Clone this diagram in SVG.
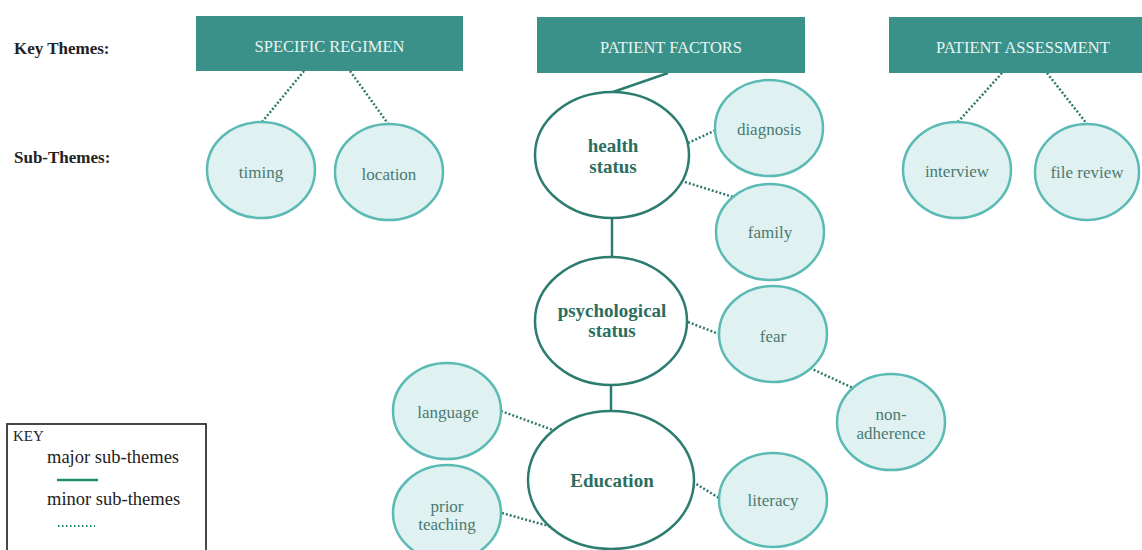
<svg xmlns="http://www.w3.org/2000/svg" width="1142" height="550" viewBox="0 0 1142 550">
<style>
.key{fill:#3a9189}
.kt{font-family:"Liberation Serif",serif;font-size:16.5px;fill:#e8f4f2;text-anchor:middle}
.lbl{font-family:"Liberation Serif",serif;font-size:17px;font-weight:bold;fill:#222}
.sub{fill:#dff1f0;stroke:#5bbab4;stroke-width:2.5}
.maj{fill:#fff;stroke:#2d7c70;stroke-width:2.5}
.st{font-family:"Liberation Serif",serif;font-size:17px;fill:#4b7a72;text-anchor:middle}
.mt{font-family:"Liberation Serif",serif;font-size:19px;font-weight:bold;fill:#2b6e60;text-anchor:middle}
.dot{stroke:#2f7a6c;stroke-width:2.5;stroke-dasharray:2 2;fill:none}
.sol{stroke:#2d7c70;stroke-width:2.5;fill:none}
.kk{font-family:"Liberation Serif",serif;font-size:18.5px;fill:#222}
</style>
<rect width="1142" height="550" fill="#fff"/>
<text class="lbl" x="14" y="54">Key Themes:</text>
<text class="lbl" x="14" y="163">Sub-Themes:</text>
<g id="connectors">
<line class="dot" x1="304" y1="71" x2="262" y2="122"/>
<line class="dot" x1="350" y1="71" x2="389" y2="125"/>
<line class="sol" x1="668" y1="73" x2="613" y2="92"/>
<line class="dot" x1="688" y1="143" x2="716" y2="130"/>
<line class="dot" x1="685" y1="182" x2="733" y2="197"/>
<line class="sol" x1="612" y1="218" x2="612" y2="257"/>
<line class="dot" x1="1002" y1="73" x2="957" y2="123"/>
<line class="dot" x1="1047" y1="73" x2="1087" y2="124"/>
<line class="dot" x1="688" y1="322" x2="719" y2="334"/>
<line class="dot" x1="810" y1="368" x2="853" y2="388"/>
<line class="sol" x1="611" y1="385" x2="611" y2="412"/>
<line class="dot" x1="501" y1="411" x2="553" y2="430"/>
<line class="dot" x1="502" y1="513" x2="552" y2="527"/>
<line class="dot" x1="693" y1="482" x2="719" y2="498"/>
</g>
<g id="specific-regimen"><rect class="key" x="196" y="16" width="267" height="55"/><text class="kt" x="329.5" y="52">SPECIFIC REGIMEN</text></g>
<g id="patient-factors"><rect class="key" x="537" y="17" width="268" height="56"/><text class="kt" x="671" y="53">PATIENT FACTORS</text></g>
<g id="patient-assessment"><rect class="key" x="889" y="17" width="268" height="56"/><text class="kt" x="1023" y="53">PATIENT ASSESSMENT</text></g>
<g id="timing"><ellipse class="sub" cx="261" cy="170" rx="54" ry="48"/><text class="st" x="261" y="178">timing</text></g>
<g id="location"><ellipse class="sub" cx="389" cy="172" rx="54" ry="48"/><text class="st" x="389" y="180">location</text></g>
<g id="health-status"><ellipse class="maj" cx="612" cy="155" rx="77" ry="63"/><text class="mt" x="613" y="152">health</text><text class="mt" x="613" y="173">status</text></g>
<g id="diagnosis"><ellipse class="sub" cx="769" cy="128" rx="54" ry="48"/><text class="st" x="769" y="135">diagnosis</text></g>
<g id="family"><ellipse class="sub" cx="770" cy="232" rx="54" ry="48"/><text class="st" x="770" y="238">family</text></g>
<g id="interview"><ellipse class="sub" cx="957" cy="170" rx="54" ry="48"/><text class="st" x="957" y="177">interview</text></g>
<g id="file-review"><ellipse class="sub" cx="1087" cy="172" rx="52" ry="48"/><text class="st" x="1087" y="178">file review</text></g>
<g id="psychological-status"><ellipse class="maj" cx="611" cy="321" rx="76" ry="64"/><text class="mt" x="612" y="317">psychological</text><text class="mt" x="612" y="337">status</text></g>
<g id="fear"><ellipse class="sub" cx="773" cy="334" rx="54" ry="48"/><text class="st" x="773" y="342">fear</text></g>
<g id="non-adherence"><ellipse class="sub" cx="891" cy="422" rx="54" ry="48"/><text class="st" x="891" y="420">non-</text><text class="st" x="891" y="439">adherence</text></g>
<g id="education"><ellipse class="maj" cx="611" cy="480" rx="83" ry="69"/><text class="mt" x="612" y="487">Education</text></g>
<g id="language"><ellipse class="sub" cx="447" cy="411" rx="54" ry="48"/><text class="st" x="448" y="418">language</text></g>
<g id="prior-teaching"><ellipse class="sub" cx="447" cy="513" rx="54" ry="48"/><text class="st" x="447" y="512">prior</text><text class="st" x="447" y="530">teaching</text></g>
<g id="literacy"><ellipse class="sub" cx="773" cy="500" rx="54" ry="47"/><text class="st" x="773" y="506">literacy</text></g>
<g id="key">
<rect x="7" y="424" width="199" height="140" fill="#fff" stroke="#333" stroke-width="1.8"/>
<text class="kk" x="13" y="441" style="font-size:15px">KEY</text>
<text class="kk" x="47" y="463">major sub-themes</text>
<line class="sol" x1="57" y1="480" x2="98" y2="480" style="stroke:#1f8c6c"/>
<text class="kk" x="47" y="505">minor sub-themes</text>
<line class="dot" x1="58" y1="526" x2="95" y2="526" style="stroke:#1f8c6c;stroke-width:2;stroke-dasharray:1.5 2.5"/>
</g>
</svg>
